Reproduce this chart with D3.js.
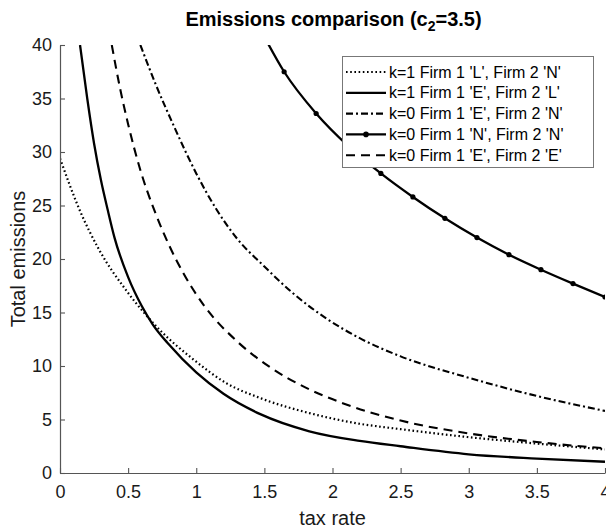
<!DOCTYPE html>
<html><head><meta charset="utf-8">
<script src="https://cdn.jsdelivr.net/npm/d3@7"></script>
<style>body{margin:0;background:#fff;} svg{display:block;font-family:"Liberation Sans",Arial,sans-serif;}</style>
</head><body>
<svg id="c" width="606" height="530"></svg>
<script>
// ---- data ----
const xTicks = [0,0.5,1,1.5,2,2.5,3,3.5,4];
const yTicks = [0,5,10,15,20,25,30,35,40];

const lnX = [0,0.15,0.29,0.49,0.73,0.98,1.22,1.47,1.83,2.2,2.5,3.0,3.5,4.0];
const lnY = [29.4,24.4,20.8,17.0,13.4,10.6,8.4,7.0,5.6,4.6,4.1,3.35,2.75,2.2];

const elX = [0.147,0.2,0.25,0.3,0.35,0.4,0.5,0.6,0.68,0.8,1.0,1.2,1.47,1.83,2.2,2.5,3.0,3.5,4.0];
const elY = [40,35,30.8,27.4,24.6,22.0,18.3,15.6,13.9,12.0,9.4,7.4,5.5,3.9,3.0,2.5,1.75,1.35,1.05];

const enX = [0.59,0.70,0.84,1.0,1.15,1.3,1.5,1.71,1.96,2.2,2.5,3.0,3.5,4.0];
const enY = [40,36.4,32.3,28.0,24.6,21.9,19.3,16.8,14.4,12.6,10.9,8.9,7.2,5.8];

const nnX = [1.49,1.645,1.88,2.12,2.355,2.59,2.825,3.06,3.295,3.53,3.765,4.0];
const nnY = [41,37.5,33.6,30.5,28.0,25.8,23.8,22.0,20.4,19.0,17.7,16.45];

const eeX = [0.38,0.44,0.5,0.59,0.7,0.8,0.9,1.06,1.3,1.54,1.8,2.08,2.5,3.0,3.5,4.0];
const eeY = [40,36,32.6,28.3,24.3,21.3,18.8,15.6,12.3,9.9,8.0,6.5,4.9,3.7,2.9,2.3];

const legendLabels = ["k=1 Firm 1 'L', Firm 2 'N'","k=1 Firm 1 'E', Firm 2 'L'","k=0 Firm 1 'E', Firm 2 'N'","k=0 Firm 1 'N', Firm 2 'N'","k=0 Firm 1 'E', Firm 2 'E'"];

// ---- drawing ----
const svg = d3.select("#c");
const L=60, R=605, T=45, B=473;
const x = d3.scaleLinear().domain([0,4]).range([L,R]);
const y = d3.scaleLinear().domain([0,40]).range([B,T]);

svg.append("defs").append("clipPath").attr("id","clip")
  .append("rect").attr("x",L).attr("y",T).attr("width",R-L).attr("height",B-T);

const series = [
  {xs:lnX, ys:lnY, dash:"1.6,2.6", w:2.2},
  {xs:elX, ys:elY, dash:null, w:2.3},
  {xs:enX, ys:enY, dash:"7,3,2,3", w:2.1},
  {xs:nnX, ys:nnY, dash:null, w:2.3, marker:true},
  {xs:eeX, ys:eeY, dash:"9,6", w:2.1}
];

const line = d3.line().x(d=>x(d[0])).y(d=>y(d[1])).curve(d3.curveMonotoneX);
const g = svg.append("g").attr("clip-path","url(#clip)");
series.forEach(s=>{
  const pts = s.xs.map((v,i)=>[v,s.ys[i]]);
  g.append("path").attr("d",line(pts)).attr("fill","none").attr("stroke","#000")
   .attr("stroke-width",s.w).attr("stroke-dasharray",s.dash);
  if(s.marker){
    g.selectAll(null).data(pts.filter(p=>p[1]<=40)).enter().append("circle")
      .attr("cx",d=>x(d[0])).attr("cy",d=>y(d[1])).attr("r",2.6).attr("fill","#000");
  }
});

// axes
const axCol="#555";
const xa = svg.append("g").attr("transform",`translate(0,${B})`)
  .call(d3.axisBottom(x).tickValues(xTicks).tickFormat(d=>String(d)).tickSizeInner(-5).tickSizeOuter(0).tickPadding(12));
const ya = svg.append("g").attr("transform",`translate(${L},0)`)
  .call(d3.axisLeft(y).tickValues(yTicks).tickFormat(d=>String(d)).tickSizeInner(-5).tickSizeOuter(0).tickPadding(8));
[xa,ya].forEach(a=>{
  a.select(".domain").attr("stroke",axCol).attr("stroke-width",1.2);
  a.selectAll(".tick line").attr("stroke",axCol).attr("stroke-width",1.1);
  a.selectAll(".tick text").attr("fill","#1a1a1a").style("font-size","18px");
});

// title
const title = svg.append("text").attr("x",(L+R)/2+1).attr("y",26).attr("text-anchor","middle")
  .style("font-size","20px").style("font-weight","bold").attr("fill","#000");
title.append("tspan").text("Emissions comparison (c");
title.append("tspan").attr("dy",5).style("font-size","14px").text("2");
title.append("tspan").attr("dy",-5).text("=3.5)");

// axis labels
svg.append("text").attr("x",(L+R)/2).attr("y",525).attr("text-anchor","middle")
  .style("font-size","20px").attr("fill","#1a1a1a").text("tax rate");
svg.append("text").attr("transform",`translate(25,${(T+B)/2}) rotate(-90)`).attr("text-anchor","middle")
  .style("font-size","20px").attr("fill","#1a1a1a").text("Total emissions");

// legend
const lg = svg.append("g");
lg.append("rect").attr("x",342.5).attr("y",56.5).attr("width",251).attr("height",111)
  .attr("fill","#fff").attr("stroke","#777").attr("stroke-width",1);
legendLabels.forEach((t,i)=>{
  const s = series[i]; const yy = 72 + i*20.8;
  lg.append("line").attr("x1",346).attr("x2",386).attr("y1",yy).attr("y2",yy)
    .attr("stroke","#000").attr("stroke-width",s.w).attr("stroke-dasharray",s.dash);
  if(s.marker) lg.append("circle").attr("cx",366).attr("cy",yy).attr("r",2.8).attr("fill","#000");
  lg.append("text").attr("x",389).attr("y",yy+5.5).style("font-size","16px").attr("fill","#000").text(t);
});
</script>
</body></html>
